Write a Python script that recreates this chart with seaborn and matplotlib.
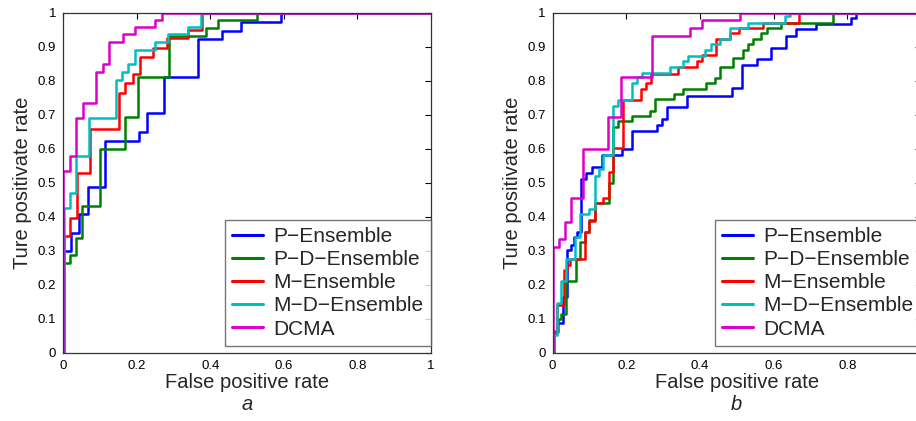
import numpy as np
import pandas as pd
import matplotlib
matplotlib.use("Agg")
import matplotlib.pyplot as plt
import seaborn as sns

# ---------------- data ----------------
methods = ["P\u2212Ensemble", "P\u2212D\u2212Ensemble", "M\u2212Ensemble", "M\u2212D\u2212Ensemble", "DCMA"]
colors = ["#0000FF", "#008000", "#FF0000", "#00BFBF", "#DD00CC"]

# panel a
a_p_fpr = [0.003, 0.022, 0.044, 0.068, 0.115, 0.206, 0.228, 0.274, 0.366, 0.431, 0.485, 0.592]
a_p_tpr = [0.300, 0.353, 0.407, 0.488, 0.624, 0.650, 0.706, 0.812, 0.922, 0.947, 0.974, 1.000]
a_pd_fpr = [0.003, 0.018, 0.034, 0.052, 0.101, 0.169, 0.204, 0.289, 0.389, 0.422, 0.526]
a_pd_tpr = [0.263, 0.287, 0.336, 0.431, 0.598, 0.692, 0.812, 0.932, 0.956, 0.979, 1.000]
a_m_fpr = [0.003, 0.018, 0.038, 0.074, 0.151, 0.168, 0.189, 0.209, 0.245, 0.283, 0.341, 0.377]
a_m_tpr = [0.343, 0.397, 0.529, 0.659, 0.765, 0.792, 0.820, 0.871, 0.895, 0.925, 0.949, 1.000]
a_md_fpr = [0.003, 0.018, 0.035, 0.072, 0.145, 0.159, 0.177, 0.196, 0.250, 0.286, 0.341, 0.374]
a_md_tpr = [0.425, 0.469, 0.579, 0.691, 0.802, 0.826, 0.848, 0.890, 0.914, 0.936, 0.959, 1.000]
a_dc_fpr = [0.000, 0.018, 0.036, 0.054, 0.090, 0.108, 0.126, 0.162, 0.197, 0.250, 0.268]
a_dc_tpr = [0.534, 0.579, 0.689, 0.733, 0.826, 0.848, 0.913, 0.937, 0.959, 0.980, 1.000]

# panel b
b_p_fpr = [0.004, 0.013, 0.028, 0.040, 0.049, 0.058, 0.067, 0.078, 0.092, 0.106, 0.133, 0.188, 0.217,
           0.283, 0.298, 0.310, 0.364, 0.486, 0.513, 0.554, 0.593, 0.635, 0.662, 0.716, 0.810, 0.823]
b_p_tpr = [0.057, 0.088, 0.163, 0.302, 0.317, 0.341, 0.354, 0.510, 0.528, 0.547, 0.581, 0.598, 0.652,
           0.670, 0.686, 0.722, 0.756, 0.778, 0.846, 0.863, 0.897, 0.932, 0.951, 0.967, 0.984, 1.000]
b_pd_fpr = [0.005, 0.015, 0.024, 0.037, 0.063, 0.075, 0.087, 0.100, 0.114, 0.152, 0.165, 0.177, 0.215, 0.264,
            0.278, 0.330, 0.355, 0.416, 0.441, 0.454, 0.490, 0.517, 0.531, 0.545, 0.567, 0.581, 0.620, 0.760]
b_pd_tpr = [0.060, 0.098, 0.114, 0.211, 0.275, 0.327, 0.356, 0.390, 0.439, 0.498, 0.665, 0.681, 0.696, 0.712,
            0.745, 0.761, 0.776, 0.794, 0.809, 0.841, 0.868, 0.890, 0.907, 0.922, 0.939, 0.954, 0.969, 1.000]
b_m_fpr = [0.003, 0.012, 0.030, 0.040, 0.047, 0.087, 0.100, 0.114, 0.137, 0.152, 0.165, 0.190, 0.239,
           0.253, 0.267, 0.341, 0.391, 0.407, 0.443, 0.481, 0.507, 0.570, 0.669]
b_m_tpr = [0.065, 0.140, 0.243, 0.258, 0.275, 0.354, 0.388, 0.439, 0.454, 0.530, 0.601, 0.743, 0.776,
           0.792, 0.820, 0.841, 0.858, 0.876, 0.922, 0.939, 0.954, 0.971, 1.000]
b_md_fpr = [0.004, 0.012, 0.024, 0.037, 0.060, 0.075, 0.100, 0.114, 0.127, 0.136, 0.163, 0.178, 0.215,
            0.228, 0.242, 0.319, 0.355, 0.368, 0.415, 0.430, 0.454, 0.481, 0.531, 0.630, 0.644]
b_md_tpr = [0.052, 0.147, 0.212, 0.275, 0.341, 0.407, 0.422, 0.520, 0.539, 0.581, 0.726, 0.743, 0.792,
            0.810, 0.824, 0.841, 0.858, 0.874, 0.890, 0.907, 0.922, 0.954, 0.971, 0.990, 1.000]
b_dc_fpr = [0.000, 0.018, 0.033, 0.049, 0.083, 0.151, 0.185, 0.271, 0.373, 0.406, 0.508]
b_dc_tpr = [0.310, 0.334, 0.383, 0.454, 0.598, 0.692, 0.812, 0.932, 0.954, 0.979, 1.000]

x_ticks = [0, 0.2, 0.4, 0.6, 0.8, 1]
x_ticklabels_a = ["0", "0.2", "0.4", "0.6", "0.8", "1"]
x_ticklabels_b = ["0", "0.2", "0.4", "0.6", "0.8", ""]   # the "1" falls outside the image
y_ticks = [0, 0.1, 0.2, 0.3, 0.4, 0.5, 0.6, 0.7, 0.8, 0.9, 1]
y_ticklabels = ["0", "0.1", "0.2", "0.3", "0.4", "0.5", "0.6", "0.7", "0.8", "0.9", "1"]

panels = {
    "a": [(a_p_fpr, a_p_tpr), (a_pd_fpr, a_pd_tpr), (a_m_fpr, a_m_tpr), (a_md_fpr, a_md_tpr), (a_dc_fpr, a_dc_tpr)],
    "b": [(b_p_fpr, b_p_tpr), (b_pd_fpr, b_pd_tpr), (b_m_fpr, b_m_tpr), (b_md_fpr, b_md_tpr), (b_dc_fpr, b_dc_tpr)],
}
xtl = {"a": x_ticklabels_a, "b": x_ticklabels_b}


def curve_frame(panel):
    rows = []
    for name, (fpr, tpr) in zip(methods, panels[panel]):
        xs = [fpr[0]] + list(fpr) + [1.0]
        ys = [0.0] + list(tpr) + [1.0]
        for x, y in zip(xs, ys):
            rows.append({"method": name, "fpr": x, "tpr": y})
    return pd.DataFrame(rows)


sns.set_style("white")
plt.rcParams["font.family"] = ["Liberation Sans", "DejaVu Sans"]

W, H = 916, 421
fig = plt.figure(figsize=(W / 100, H / 100), dpi=100)

axes_px = {"a": (63, 368), "b": (552.5, 368.5)}
y_top, y_bot = 12.7, 352.7

for panel, (x0, w) in axes_px.items():
    ax = fig.add_axes([x0 / W, (H - y_bot) / H, w / W, (y_bot - y_top) / H])
    df = curve_frame(panel)
    sns.lineplot(data=df, x="fpr", y="tpr", hue="method", hue_order=methods,
                 palette=colors, sort=False, estimator=None, drawstyle="steps-post",
                 linewidth=1.8, ax=ax)
    ax.set_xlim(0, 1)
    ax.set_ylim(0, 1.0)
    ax.set_xticks(x_ticks)
    ax.set_xticklabels(xtl[panel])
    ax.set_yticks(y_ticks)
    ax.set_yticklabels(y_ticklabels)
    ax.tick_params(direction="in", top=True, right=True, length=4, width=0.8,
                   labelsize=9.5, colors="#000000", pad=5)
    for s in ax.spines.values():
        s.set_visible(True)
        s.set_color("#333333")
        s.set_linewidth(0.9)
    ax.set_xlabel("False positive rate", fontsize=14.5, labelpad=1)
    ax.set_ylabel("Ture positivate rate", fontsize=14.5, labelpad=4)
    handles, labels = ax.get_legend_handles_labels()
    leg = ax.legend(handles, labels, loc="lower right", bbox_to_anchor=(1.0, 0.02),
                    fontsize=15, frameon=True, fancybox=False, borderaxespad=0,
                    handlelength=1.5, handletextpad=0.5, labelspacing=0.2,
                    borderpad=0.35)
    leg.get_frame().set_edgecolor("#555555")
    leg.get_frame().set_linewidth(1.0)
    for lh in leg.get_lines():
        lh.set_linewidth(2.2)
    fig.text((x0 + w / 2) / W, 1 - 405 / H, panel, fontsize=14.5, style="italic",
             ha="center", va="center")

fig.savefig("out.png", dpi=100)
